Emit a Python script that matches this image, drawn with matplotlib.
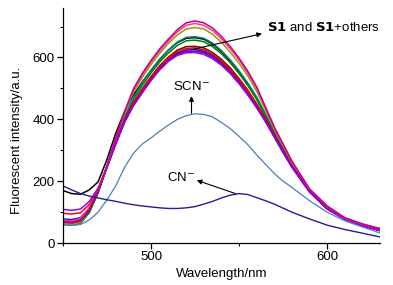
import numpy as np
import matplotlib
matplotlib.use('Agg')
import matplotlib.pyplot as plt
from matplotlib.ticker import MultipleLocator

plt.rcParams['font.family'] = ['Liberation Sans', 'DejaVu Sans']

# wavelength grid (nm)
wl = [450, 455, 460, 465, 470, 475, 480, 485, 490, 495, 500, 505, 510, 515, 520, 525,
      530, 535, 540, 545, 550, 555, 560, 565, 570, 575, 580, 590, 600, 610, 620, 630]

# S1 and S1 + other anions
s1_magenta = [68, 65, 72, 110, 172, 250, 340, 425, 498, 548, 590, 628, 660, 690, 712, 718,
              712, 695, 668, 635, 598, 555, 505, 440, 375, 320, 265, 175, 120, 82, 62, 47]
s1_pink = [75, 72, 80, 115, 172, 250, 338, 422, 494, 543, 585, 622, 654, 683, 704, 710,
           704, 687, 660, 628, 592, 549, 500, 436, 372, 318, 263, 174, 119, 81, 61, 46]
s1_olive = [62, 60, 68, 105, 168, 249, 336, 418, 487, 535, 577, 614, 646, 673, 692, 697,
            692, 675, 649, 617, 581, 540, 491, 430, 368, 314, 261, 173, 118, 81, 61, 46]
s1_darkcyan = [62, 60, 66, 100, 165, 248, 330, 408, 470, 517, 558, 595, 625, 650, 665, 667,
               662, 646, 622, 592, 557, 517, 472, 417, 360, 307, 256, 171, 116, 80, 59, 44]
s1_black = [170, 160, 158, 172, 198, 270, 355, 425, 478, 520, 558, 594, 624, 648, 662, 664,
            659, 643, 619, 589, 554, 514, 469, 414, 357, 304, 254, 170, 115, 80, 59, 44]
s1_green = [60, 58, 64, 98, 162, 247, 328, 404, 464, 509, 550, 586, 615, 639, 654, 656,
            651, 635, 612, 583, 548, 509, 464, 410, 355, 303, 253, 170, 115, 79, 59, 44]
s1_wine = [68, 66, 72, 105, 168, 246, 324, 397, 454, 498, 538, 574, 602, 624, 635, 636,
           631, 616, 594, 566, 532, 494, 450, 402, 350, 298, 249, 167, 112, 78, 57, 41]
s1_red = [96, 94, 98, 125, 172, 246, 323, 395, 451, 494, 535, 570, 598, 619, 629, 631,
          625, 611, 589, 561, 528, 490, 447, 400, 347, 296, 248, 166, 111, 78, 57, 41]
s1_blue = [78, 76, 82, 112, 168, 245, 322, 393, 448, 491, 532, 567, 595, 615, 624, 626,
           620, 606, 584, 557, 524, 486, 444, 397, 345, 295, 247, 166, 111, 78, 57, 41]
s1_purple = [72, 70, 76, 108, 166, 245, 321, 392, 446, 488, 528, 563, 591, 611, 619, 621,
             615, 601, 580, 553, 520, 482, 440, 394, 344, 294, 246, 166, 111, 78, 57, 41]
s1_violet = [109, 106, 110, 135, 178, 245, 320, 390, 443, 485, 525, 560, 588, 607, 615, 616,
             610, 596, 575, 548, 515, 478, 437, 392, 342, 292, 245, 165, 110, 77, 56, 40]

# S1 + SCN- and S1 + CN-
scn = [60, 57, 60, 75, 100, 140, 185, 245, 290, 320, 340, 362, 382, 400, 412, 418,
       416, 408, 390, 370, 345, 318, 285, 255, 225, 200, 180, 137, 100, 72, 52, 33]
cn = [185, 172, 160, 152, 146, 140, 135, 129, 124, 120, 117, 114, 112, 112, 114, 118,
      126, 135, 146, 155, 160, 157, 147, 137, 126, 113, 100, 78, 58, 44, 32, 20]

s1_series = [
    (s1_black, '#000000'),
    (s1_green, '#008000'),
    (s1_darkcyan, '#008080'),
    (s1_olive, '#9a9a00'),
    (s1_blue, '#0000ff'),
    (s1_wine, '#800000'),
    (s1_red, '#ff0000'),
    (s1_purple, '#800080'),
    (s1_violet, '#8b00ff'),
    (s1_pink, '#ff3399'),
    (s1_magenta, '#c8007a'),
]

fig = plt.figure(figsize=(3.93, 2.85), dpi=100)
ax = fig.add_axes([0.160, 0.147, 0.807, 0.825])

for ys, c in s1_series:
    ax.plot(wl, ys, color=c, lw=1.1)
ax.plot(wl, scn, color='#4a7fb5', lw=0.9)
ax.plot(wl, cn, color='#1f1f96', lw=1.0)

ax.set_xlim(450, 630)
ax.set_ylim(0, 760)
ax.xaxis.set_major_locator(MultipleLocator(100))
ax.xaxis.set_minor_locator(MultipleLocator(50))
ax.yaxis.set_major_locator(MultipleLocator(200))
ax.yaxis.set_minor_locator(MultipleLocator(100))
ax.spines['top'].set_visible(False)
ax.spines['right'].set_visible(False)
for s in ['left', 'bottom']:
    ax.spines[s].set_linewidth(0.9)
ax.tick_params(which='major', direction='out', length=4, width=0.9, labelsize=9.5, pad=2)
ax.tick_params(which='minor', direction='out', length=2.5, width=0.8)

ax.set_xlabel('Wavelength/nm', fontsize=9.5)
ax.set_ylabel('Fluorescent intensity/a.u.', fontsize=9.5)
ax.xaxis.set_label_coords(0.5, -0.105)
ax.yaxis.set_label_coords(-0.127, 0.438)

arrow = dict(arrowstyle='-|>', color='k', lw=0.8, mutation_scale=7, shrinkA=0, shrinkB=0)
ax.annotate('', xy=(563, 677), xytext=(523.5, 626), arrowprops=arrow)
ax.text(566, 697, r'$\mathbf{S1}$ and $\mathbf{S1}$+others', fontsize=9.5, va='center', ha='left')
ax.annotate('', xy=(523, 475), xytext=(523, 419), arrowprops=arrow)
ax.text(523, 505, 'SCN$^{-}$', fontsize=9.5, va='center', ha='center')
ax.annotate('', xy=(526, 203), xytext=(548, 160), arrowprops=arrow)
ax.text(517, 213, 'CN$^{-}$', fontsize=9.5, va='center', ha='center')

fig.savefig('out.png', dpi=100)
